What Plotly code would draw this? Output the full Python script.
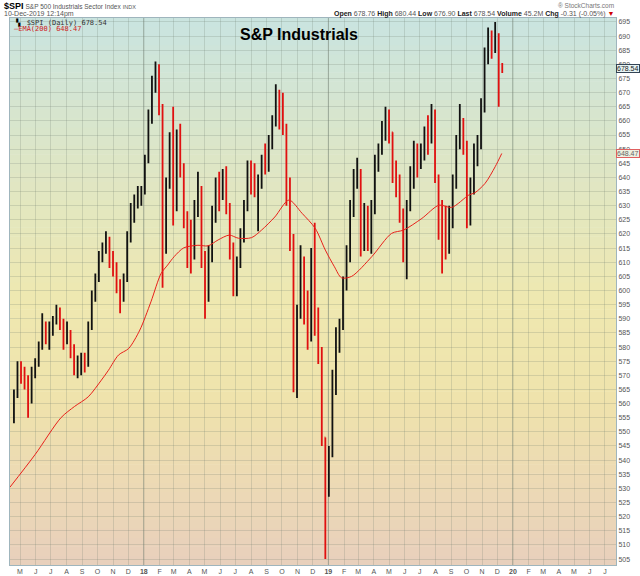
import pandas as pd
import plotly.graph_objects as go

# weekly bars (week of Monday)
week_start = "2017-04-19"

open_2017 = [556, 563, 572, 569, 567, 561, 571, 574, 580, 588, 584, 586, 589, 593, 588, 582, 585, 579, 573,
             574, 576, 574, 587, 598, 604, 612, 615, 618, 611, 609, 602, 597, 604, 618, 627, 632, 633]
high_2017 = [565, 575, 575, 573, 570, 573, 576, 582, 592, 589, 589, 591, 595, 594, 590, 589, 586, 581, 577,
             578, 578, 589, 600, 606, 614, 617, 621, 619, 614, 610, 604, 606, 621, 631, 634, 637, 637]
low_2017 = [553, 562, 567, 565, 555, 560, 569, 573, 579, 581, 579, 584, 588, 586, 579, 581, 576, 570, 569,
            570, 571, 573, 586, 596, 603, 610, 613, 608, 605, 599, 592, 596, 603, 617, 624, 629, 630]
close_2017 = [563, 572, 569, 567, 561, 571, 574, 580, 588, 584, 586, 589, 593, 588, 582, 585, 579, 573, 574,
              576, 574, 587, 598, 604, 612, 615, 618, 611, 609, 602, 597, 604, 618, 627, 632, 633, 635]

open_2018 = [635, 646, 660, 672, 678, 664, 615, 638, 652, 630, 655, 642, 624, 618, 612, 628, 636, 612, 598,
             612, 626, 636, 634, 641, 630, 615, 605, 610, 619, 630, 642, 641, 636, 638, 646, 644, 652, 660,
             670, 661, 658, 636, 618, 572, 592, 606, 598, 586, 612, 590, 578, 548, 536]
high_2018 = [648, 664, 676, 681, 680, 666, 640, 656, 665, 657, 659, 645, 628, 625, 632, 642, 637, 614, 616,
             630, 640, 642, 643, 644, 631, 617, 612, 622, 632, 646, 646, 645, 641, 648, 652, 655, 662, 673,
             671, 670, 659, 640, 620, 595, 616, 612, 600, 615, 624, 594, 580, 548, 545]
low_2018 = [634, 645, 659, 670, 662, 601, 613, 636, 623, 628, 640, 622, 608, 606, 611, 626, 608, 590, 596,
            610, 624, 628, 632, 627, 611, 598, 598, 608, 617, 628, 634, 633, 621, 636, 641, 642, 650, 658,
            657, 655, 630, 614, 564, 562, 590, 588, 579, 582, 584, 574, 545, 505, 527]
close_2018 = [646, 660, 672, 678, 664, 615, 638, 652, 630, 655, 642, 624, 618, 612, 628, 636, 612, 598, 612,
              626, 636, 634, 641, 630, 615, 605, 610, 619, 630, 642, 641, 636, 638, 646, 644, 652, 660, 670,
              661, 658, 636, 618, 572, 592, 606, 598, 586, 612, 590, 578, 548, 536, 543]

open_2019 = [543, 565, 584, 588, 602, 612, 628, 640, 642, 616, 628, 618, 628, 645, 650, 657, 660, 656, 644,
             640, 628, 613, 630, 638, 648, 646, 649, 655, 653, 662, 640, 630, 620, 614, 625, 638, 652, 660,
             652, 630, 636, 648, 652, 665, 682, 688, 686, 690, 678.76]
high_2019 = [572, 587, 590, 605, 616, 632, 643, 647, 643, 631, 630, 632, 648, 652, 660, 665, 664, 656, 646,
             641, 629, 632, 644, 653, 652, 652, 658, 662, 666, 664, 641, 632, 630, 630, 641, 655, 666, 661,
             653, 640, 652, 655, 668, 686, 693, 692, 695, 691, 680.44]
low_2019 = [541, 563, 578, 586, 600, 610, 626, 636, 612, 614, 614, 613, 627, 642, 648, 653, 652, 638, 633,
            624, 610, 604, 628, 636, 640, 643, 646, 648, 652, 638, 618, 606, 611, 613, 622, 636, 650, 648,
            622, 623, 634, 644, 650, 663, 680, 682, 684, 665, 676.90]
close_2019 = [565, 584, 588, 602, 612, 628, 640, 642, 616, 628, 618, 628, 645, 650, 657, 660, 656, 644, 640,
              628, 613, 630, 638, 648, 646, 649, 655, 653, 662, 640, 630, 620, 614, 625, 638, 652, 660, 652,
              630, 636, 648, 652, 665, 682, 688, 686, 690, 678, 678.54]

# EMA(200) read at a few dates
ema_dates = ["2017-04-11", "2017-05-31", "2017-07-21", "2017-08-17", "2017-09-13", "2017-10-09",
             "2017-10-23", "2017-11-12", "2017-12-02", "2017-12-24", "2018-01-15", "2018-02-04",
             "2018-02-17", "2018-03-02", "2018-03-21", "2018-04-18", "2018-05-08", "2018-05-28",
             "2018-06-19", "2018-07-07", "2018-08-02", "2018-08-22", "2018-09-17", "2018-10-15",
             "2018-11-10", "2018-12-06", "2018-12-26", "2019-01-13", "2019-01-27", "2019-02-16",
             "2019-03-28", "2019-05-06", "2019-05-30", "2019-07-05", "2019-08-08", "2019-09-02",
             "2019-10-06", "2019-10-18", "2019-11-07", "2019-11-27", "2019-12-10"]
ema_values = [530.4, 542, 555, 559, 562.4, 568.3, 571.8, 577.2, 579.5, 586, 596, 606, 609, 612, 615.1,
              616, 615.8, 617.9, 619.6, 618.5, 618.7, 621.4, 626, 632, 627.3, 622, 614.3, 608.4, 604.5,
              605, 612, 620.2, 621.4, 625.5, 630.2, 629.4, 633.8, 634.6, 637.9, 643.8, 648.47]

months = pd.date_range("2017-05-01", "2020-07-01", freq="MS")
month_letters = ["J", "F", "M", "A", "M", "J", "J", "A", "S", "O", "N", "D"]

opens = open_2017 + open_2018 + open_2019
highs = high_2017 + high_2018 + high_2019
lows = low_2017 + low_2018 + low_2019
closes = close_2017 + close_2018 + close_2019
weeks = pd.date_range(week_start, periods=len(closes), freq="7D")

tick_text = []
for m in months:
    if m.month == 1:
        tick_text.append("<b>%02d</b>" % (m.year % 100))
    else:
        tick_text.append(month_letters[m.month - 1])

fig = go.Figure()
fig.add_trace(go.Ohlc(
    x=weeks, open=opens, high=highs, low=lows, close=closes,
    increasing=dict(line=dict(color="#111111", width=1.8)),
    decreasing=dict(line=dict(color="#e01010", width=1.8)),
    tickwidth=0.2, showlegend=False, hoverinfo="skip",
))
fig.add_trace(go.Scatter(
    x=ema_dates, y=ema_values, mode="lines",
    line=dict(color="#e8201a", width=1, shape="spline", smoothing=0.8),
    showlegend=False, hoverinfo="skip",
))

# background gradient, teal at top to peach at bottom
stops = [(0.0, (232, 207, 188)), (0.12, (236, 216, 182)), (0.3, (239, 227, 172)),
         (0.48, (239, 232, 176)), (0.76, (220, 230, 200)), (1.0, (201, 228, 224))]
shapes = []
n_bands = 60
for i in range(n_bands):
    t = (i + 0.5) / n_bands
    for j in range(len(stops) - 1):
        if stops[j][0] <= t <= stops[j + 1][0]:
            f = (t - stops[j][0]) / (stops[j + 1][0] - stops[j][0])
            c = [round(stops[j][1][k] + f * (stops[j + 1][1][k] - stops[j][1][k])) for k in range(3)]
            break
    shapes.append(dict(type="rect", xref="paper", yref="paper", x0=0, x1=1,
                       y0=i / n_bands, y1=(i + 1) / n_bands + 0.001,
                       fillcolor="rgb(%d,%d,%d)" % tuple(c), line_width=0, layer="below"))
for yr in ["2018-01-01", "2019-01-01", "2020-01-01"]:
    shapes.append(dict(type="line", xref="x", yref="paper", x0=yr, x1=yr, y0=0, y1=1,
                       line=dict(color="rgba(110,125,110,0.45)", width=1), layer="below"))

small = dict(family="Liberation Sans, Arial", size=7, color="#555555")
annotations = [
    dict(x=-0.014, y=1.022, xref="paper", yref="paper", xanchor="left", yanchor="middle", showarrow=False,
         text="<b><span style='font-size:9px;color:#000'>$SPI</span></b> "
              "<span style='font-size:6.5px'>S&P 500 Industrials Sector Index</span> "
              "<span style='font-size:5.5px'>INDX</span>",
         font=small),
    dict(x=-0.014, y=1.0065, xref="paper", yref="paper", xanchor="left", yanchor="middle", showarrow=False,
         text="10-Dec-2019 12:14pm", font=small),
    dict(x=0.004, y=0.9925, xref="paper", yref="paper", xanchor="left", yanchor="middle", showarrow=False,
         text="<span style='color:#000'>▝▖</span> $SPI (Daily) 678.54", font=dict(family="DejaVu Sans Mono", size=7, color="#333333")),
    dict(x=0.004, y=0.98, xref="paper", yref="paper", xanchor="left", yanchor="middle", showarrow=False,
         text="—EMA(200) 648.47", font=dict(family="DejaVu Sans Mono", size=7, color="#d02020")),
    dict(x=0.477, y=0.9707, xref="paper", yref="paper", xanchor="center", yanchor="middle", showarrow=False,
         text="<b>S&P Industrials</b>", font=dict(family="Liberation Sans, Arial", size=16, color="#000000")),
    dict(x=1.0, y=1.022, xref="paper", yref="paper", xanchor="right", yanchor="middle", showarrow=False,
         text="® StockCharts.com", font=dict(family="Liberation Sans, Arial", size=6.5, color="#777777")),
    dict(x=1.0, y=1.0065, xref="paper", yref="paper", xanchor="right", yanchor="middle", showarrow=False,
         text="<b><span style='color:#222'>Open</span></b> 678.76 <b><span style='color:#222'>High</span></b> 680.44 "
              "<b><span style='color:#222'>Low</span></b> 676.90 <b><span style='color:#222'>Last</span></b> 678.54 "
              "<b><span style='color:#222'>Volume</span></b> 45.2M <b><span style='color:#222'>Chg</span></b> "
              "-0.31 (-0.05%) <span style='color:#d00000'>▼</span>",
         font=small),
    dict(x=1.0, y=678.54, xref="paper", yref="y", xanchor="left", yanchor="middle", showarrow=False,
         text="678.54", font=dict(family="Liberation Sans, Arial", size=7, color="#222222"),
         bgcolor="#e6f2f2", bordercolor="#334455", borderwidth=1, borderpad=0),
    dict(x=1.0, y=648.47, xref="paper", yref="y", xanchor="left", yanchor="middle", showarrow=False,
         text="648.47", font=dict(family="Liberation Sans, Arial", size=7, color="#666666"),
         bgcolor="#eef0e0", bordercolor="#e06060", borderwidth=1, borderpad=0),
]

fig.update_layout(
    width=640, height=576,
    margin=dict(l=10, r=24, t=18, b=11, autoexpand=False),
    paper_bgcolor="white", plot_bgcolor="rgba(0,0,0,0)",
    shapes=shapes, annotations=annotations,
    font=dict(family="Liberation Sans, Arial", size=7, color="#555555"),
)
fig.update_xaxes(
    type="date", range=["2017-04-11 05:00", "2020-07-23"],
    rangeslider_visible=False, automargin=False,
    tickmode="array", tickvals=months, ticktext=tick_text,
    showgrid=True, gridcolor="rgba(110,125,110,0.22)", gridwidth=1,
    ticks="", ticklen=0, tickfont=dict(size=7, color="#555555"),
    showline=True, linecolor="#9fb5bd", mirror=True, zeroline=False,
)
fig.update_yaxes(
    side="right", range=[502.9, 696.4], tickmode="linear", tick0=505, dtick=5,
    automargin=False,
    showgrid=True, gridcolor="rgba(110,125,110,0.22)", gridwidth=1,
    ticks="", tickfont=dict(size=7, color="#555555"),
    showline=True, linecolor="#9fb5bd", mirror=True, zeroline=False,
)

fig.write_html("out.html", config={"displayModeBar": False},
               post_script="document.body.style.margin='0';")
